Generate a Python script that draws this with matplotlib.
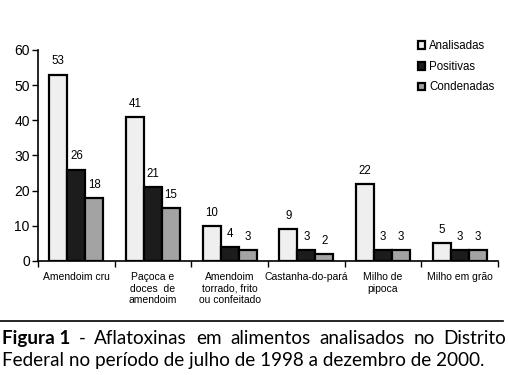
import numpy as np
import matplotlib.pyplot as plt

# data
categorias = ['Amendoim cru', 'Paçoca e\ndoces  de\namendoim', 'Amendoim\ntorrado, frito\nou confeitado',
              'Castanha-do-pará', 'Milho de\npipoca', 'Milho em grão']
analisadas = [53, 41, 10, 9, 22, 5]
positivas = [26, 21, 4, 3, 3, 3]
condenadas = [18, 15, 3, 2, 3, 3]
series = [('Analisadas', analisadas, '#efefef'),
          ('Positivas', positivas, '#1c1c1c'),
          ('Condenadas', condenadas, '#a3a3a3')]
legenda_l1 = ['Figura 1', '-', 'Aflatoxinas', 'em', 'alimentos', 'analisados', 'no', 'Distrito']
legenda_l2 = 'Federal no período de julho de 1998 a dezembro de 2000.'

plt.rcParams['font.family'] = ['Liberation Sans', 'DejaVu Sans']

W, H = 508, 375
fig = plt.figure(figsize=[W / 100, H / 100], dpi=100, facecolor='white')
ax = fig.add_axes([0.075, 0.304, 0.905, 0.563])

x = np.arange(len(categorias))
w = 0.235
for i, (nome, vals, cor) in enumerate(series):
    pos = x + (i - 1) * w
    ax.bar(pos, vals, width=w, color=cor, edgecolor='black', linewidth=1.6, label=nome)
    for px, v in zip(pos, vals):
        ax.text(px, v + 2.0, str(v), ha='center', va='bottom', fontsize=8.3)

ax.set_xlim(-0.5, len(categorias) - 0.5)
ax.set_ylim(0, 60)
ax.set_yticks([0, 10, 20, 30, 40, 50, 60])
ax.tick_params(axis='y', labelsize=10, length=4, width=1, direction='out', pad=2)
ax.set_xticks(x)
ax.set_xticklabels(categorias, fontsize=7.5, linespacing=1.2, va='top')
ax.tick_params(axis='x', which='major', length=0, pad=8)
ax.set_xticks(np.arange(len(categorias) + 1) - 0.5, minor=True)
ax.tick_params(axis='x', which='minor', length=4, width=1, direction='out')
for s in ['top', 'right']:
    ax.spines[s].set_visible(False)
for s in ['left', 'bottom']:
    ax.spines[s].set_linewidth(1.2)

ax.legend(loc='upper right', bbox_to_anchor=(1.015, 1.095), frameon=False, fontsize=8.3,
          handlelength=0.65, handleheight=0.65, handletextpad=0.35, labelspacing=0.75)

# caption
fig.add_artist(plt.Line2D([0.0, 0.99], [1 - 321 / H, 1 - 321 / H], color='black', linewidth=1.2))
cap_font = ['Lato', 'DejaVu Sans']
fs = 12.5
y1 = 1 - 344 / H
y2 = 1 - 366 / H
renderer = fig.canvas.get_renderer()

# second line, scaled to reference width (~485 px)
t2 = fig.text(0.003, y2, legenda_l2, fontsize=fs, va='baseline', ha='left', family=cap_font)
wpx = t2.get_window_extent(renderer).width
fs = fs * 484 / wpx
t2.set_fontsize(fs)

# first line, justified between both margins
words = []
for k, palavra in enumerate(legenda_l1):
    bold = k == 0
    t = fig.text(0, y1, palavra, fontsize=fs, va='baseline', ha='left', family=cap_font,
                 weight='bold' if bold else 'normal')
    words.append(t)
larg = [t.get_window_extent(renderer).width for t in words]
x0, x1 = 0.003 * W, 0.997 * W
gap = (x1 - x0 - sum(larg)) / (len(words) - 1)
xp = x0
for t, lw in zip(words, larg):
    t.set_x(xp / W)
    xp += lw + gap

plt.savefig('out.png', dpi=100, facecolor='white')
